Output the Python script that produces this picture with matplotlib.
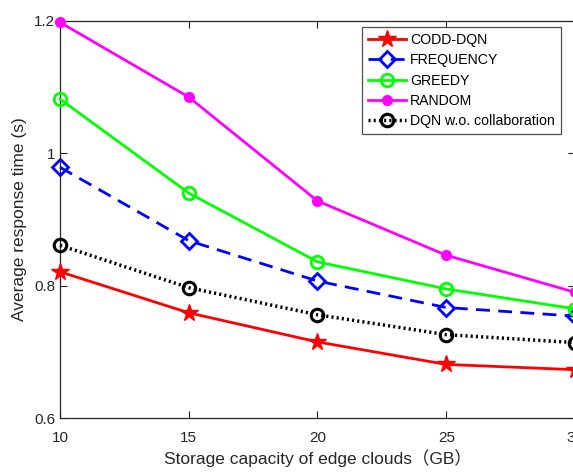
import matplotlib
matplotlib.use('Agg')
import matplotlib.pyplot as plt

plt.rcParams['font.family'] = ['Liberation Sans', 'Noto Sans CJK SC', 'DejaVu Sans']

# storage capacity (GB)
capacity = [10, 15, 20, 25, 30]

# average response time (s) per scheme
codd_dqn = [0.821, 0.759, 0.715, 0.681, 0.673]
frequency = [0.979, 0.868, 0.807, 0.767, 0.754]
greedy = [1.082, 0.940, 0.836, 0.795, 0.765]
random_ = [1.198, 1.085, 0.928, 0.846, 0.790]
dqn_wo = [0.861, 0.797, 0.756, 0.726, 0.714]

xticks = [10, 15, 20, 25, 30]
yticks = [0.6, 0.8, 1.0, 1.2]
ytick_labels = ['0.6', '0.8', '1', '1.2']

fig = plt.figure(figsize=(5.73, 4.74), dpi=100)
ax = fig.add_axes([0.1047, 0.1181, 0.8988, 0.8376])

ax.plot(capacity, codd_dqn, color='red', lw=2, marker='*', ms=13,
        label='CODD-DQN', clip_on=False, zorder=5)
ax.plot(capacity, frequency, color='blue', lw=2, ls=(0, (5, 3)), marker='D', ms=8,
        mfc='none', mew=2, label='FREQUENCY', clip_on=False, zorder=4)
ax.plot(capacity, greedy, color='#00ff00', lw=2, marker='o', ms=9,
        mfc='none', mew=2, label='GREEDY', clip_on=False, zorder=4)
ax.plot(capacity, random_, color='magenta', lw=2, marker='o', ms=7,
        label='RANDOM', clip_on=False, zorder=4)
ax.plot(capacity, dqn_wo, color='black', lw=2.5, ls=(0, (0.6, 0.9)), marker='o', ms=9,
        mfc='none', mew=2.2, label='DQN w.o. collaboration', clip_on=False, zorder=4)

ax.set_xlim(10, 30)
ax.set_ylim(0.6, 1.2)
ax.set_xticks(xticks)
ax.set_yticks(yticks)
ax.set_yticklabels(ytick_labels)

edge = '#262626'
for s in ax.spines.values():
    s.set_color(edge)
    s.set_linewidth(0.9)
ax.tick_params(direction='in', length=5, width=0.8, colors=edge, labelsize=11,
               top=True, right=True)
ax.tick_params(axis='x', pad=9)

ax.set_xlabel('Storage capacity of edge clouds（GB）', fontsize=12.5, color=edge, labelpad=3)
ax.set_ylabel('Average response time (s)', fontsize=12.5, color=edge, labelpad=5)

leg = ax.legend(loc='upper right', bbox_to_anchor=(0.981, 0.996), fontsize=10.2,
                frameon=True, fancybox=False, edgecolor=edge, borderpad=0.42,
                labelspacing=0.45, handlelength=2.7, handletextpad=0.3,
                borderaxespad=0.3)
leg.get_frame().set_linewidth(0.9)

fig.savefig('out.png', dpi=100)
